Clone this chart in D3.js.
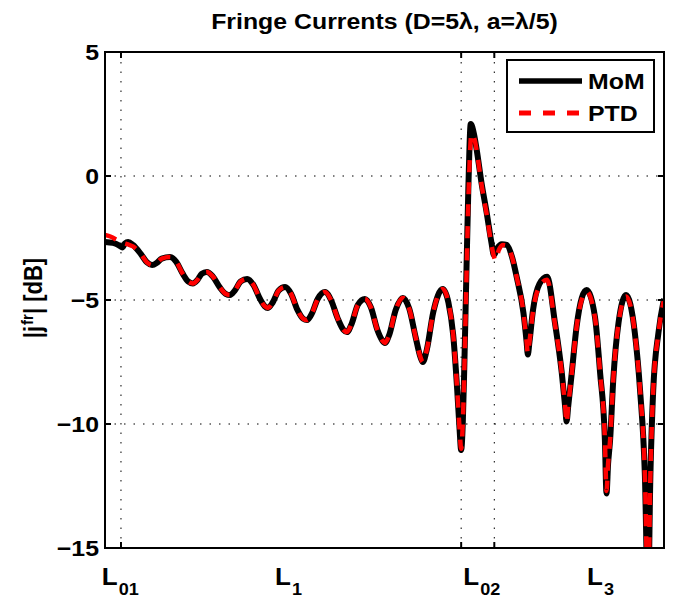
<!DOCTYPE html>
<html>
<head>
<meta charset="utf-8">
<script src="https://cdn.jsdelivr.net/npm/d3@7"></script>
<style>
  body { margin: 0; background: #fff; }
  svg text { font-family: "Liberation Sans", Arial, Helvetica, sans-serif; font-weight: bold; fill: #000; }
</style>
</head>
<body>
<svg id="chart" width="678" height="601"></svg>
<script>
// y axis ticks (dB)
const yTicks = [-15, -10, -5, 0, 5]
const yGrid = [-10, -5, 0]
// vertical grid lines / x ticks (position along the contour)
const xGrid = [0.40, 8.92, 9.75]
// x tick labels (text, subscript, position)
const xLabels = [
    {main: 'L', sub: '01', at: -0.08},
    {main: 'L', sub: '1', at: 4.26},
    {main: 'L', sub: '02', at: 8.97},
    {main: 'L', sub: '3', at: 12.07}
]

// MoM fringe current, [position, dB]
const mom = [
    [0.00,-2.66],[0.20,-2.70],[0.35,-2.80],[0.43,-2.88],[0.50,-2.72],[0.58,-2.66],[0.70,-2.78],[0.90,-3.15],
    [1.05,-3.48],[1.18,-3.59],[1.30,-3.50],[1.42,-3.33],[1.63,-3.27],[1.78,-3.45],[1.95,-3.95],[2.08,-4.25],
    [2.20,-4.33],[2.32,-4.18],[2.42,-3.95],[2.55,-3.87],[2.70,-4.05],[2.88,-4.50],[3.02,-4.75],[3.13,-4.80],
    [3.25,-4.62],[3.40,-4.25],[3.56,-4.15],[3.72,-4.40],[3.88,-4.95],[4.00,-5.25],[4.08,-5.32],[4.20,-5.10],
    [4.35,-4.62],[4.51,-4.48],[4.66,-4.75],[4.82,-5.40],[4.96,-5.75],[5.06,-5.81],[5.18,-5.55],[5.33,-4.95],
    [5.51,-4.68],[5.66,-5.00],[5.83,-5.75],[5.97,-6.20],[6.06,-6.29],[6.18,-5.95],[6.33,-5.20],[6.51,-4.96],
    [6.66,-5.30],[6.82,-6.20],[6.94,-6.62],[7.01,-6.73],[7.12,-6.40],[7.28,-5.40],[7.46,-4.92],[7.62,-5.35],
    [7.78,-6.50],[7.90,-7.30],[7.96,-7.50],[8.06,-7.00],[8.22,-5.50],[8.46,-4.56],[8.60,-5.10],[8.72,-6.40],
    [8.82,-8.60],[8.88,-10.20],[8.92,-11.05],[8.96,-10.00],[9.00,-7.60],[9.05,-4.00],[9.10,-0.50],[9.16,2.10],
    [9.24,1.70],[9.31,1.05],[9.43,-0.28],[9.56,-1.49],[9.68,-2.70],[9.74,-3.19],[9.82,-2.92],[9.94,-2.75],
    [10.06,-2.78],[10.20,-3.30],[10.31,-4.07],[10.48,-5.52],[10.56,-6.70],[10.59,-7.20],[10.63,-6.70],[10.72,-5.40],
    [10.88,-4.35],[11.07,-4.06],[11.27,-5.93],[11.44,-7.94],[11.53,-9.40],[11.56,-9.90],[11.60,-9.30],[11.69,-7.94],
    [11.81,-6.08],[11.94,-4.92],[12.06,-4.60],[12.27,-5.67],[12.40,-7.94],[12.52,-10.65],[12.56,-12.80],[12.60,-11.60],
    [12.65,-10.65],[12.73,-8.20],[12.86,-5.93],[13.05,-4.80],[13.27,-6.33],[13.40,-8.63],[13.52,-12.00],[13.60,-17.00],
    [13.66,-12.00],[13.73,-8.63],[13.86,-6.33],[14.00,-4.95]
]

// PTD fringe current, [position, dB]
const ptd = [
    [0.00,-2.38],[0.15,-2.45],[0.30,-2.58],[0.45,-2.70],[0.58,-2.76],[0.70,-2.84],[0.90,-3.15],
    [1.05,-3.48],[1.18,-3.59],[1.30,-3.50],[1.42,-3.33],[1.63,-3.27],[1.78,-3.45],[1.95,-3.95],[2.08,-4.25],
    [2.20,-4.33],[2.32,-4.18],[2.42,-3.95],[2.55,-3.87],[2.70,-4.05],[2.88,-4.50],[3.02,-4.75],[3.13,-4.80],
    [3.25,-4.62],[3.40,-4.25],[3.56,-4.15],[3.72,-4.40],[3.88,-4.95],[4.00,-5.25],[4.08,-5.32],[4.20,-5.10],
    [4.35,-4.62],[4.51,-4.48],[4.66,-4.75],[4.82,-5.40],[4.96,-5.75],[5.06,-5.81],[5.18,-5.55],[5.33,-4.95],
    [5.51,-4.68],[5.66,-5.00],[5.83,-5.75],[5.97,-6.20],[6.06,-6.29],[6.18,-5.95],[6.33,-5.20],[6.51,-4.96],
    [6.66,-5.30],[6.82,-6.20],[6.94,-6.62],[7.01,-6.73],[7.12,-6.40],[7.28,-5.40],[7.46,-4.92],[7.62,-5.35],
    [7.78,-6.50],[7.90,-7.30],[7.96,-7.50],[8.06,-7.00],[8.22,-5.50],[8.46,-4.56],[8.60,-5.10],[8.72,-6.40],
    [8.82,-8.60],[8.88,-10.20],[8.92,-11.00],[8.96,-10.00],[9.00,-7.80],[9.05,-4.30],[9.10,-1.00],[9.18,1.70],
    [9.26,1.45],[9.32,0.90],[9.43,-0.35],[9.56,-1.55],[9.70,-2.95],[9.78,-3.40],[9.86,-3.00],[9.96,-2.78],
    [10.06,-2.80],[10.20,-3.30],[10.31,-4.07],[10.48,-5.52],[10.56,-6.70],[10.59,-7.15],[10.63,-6.70],[10.72,-5.45],
    [10.88,-4.45],[11.07,-4.18],[11.27,-5.98],[11.44,-7.94],[11.53,-9.40],[11.56,-9.95],[11.60,-9.30],[11.69,-7.94],
    [11.81,-6.10],[11.94,-4.98],[12.06,-4.66],[12.27,-5.70],[12.40,-7.94],[12.52,-10.65],[12.56,-12.70],[12.60,-11.60],
    [12.65,-10.65],[12.73,-8.20],[12.86,-5.95],[13.05,-4.86],[13.27,-6.35],[13.40,-8.63],[13.52,-12.00],[13.60,-17.00],
    [13.66,-12.00],[13.73,-8.63],[13.86,-6.35],[14.00,-4.98]
]

const legendItems = [
    {name: 'MoM', color: '#000', dash: null, width: 5.5},
    {name: 'PTD', color: '#ff0000', dash: '12,12', width: 5}
]

const svg = d3.select('#chart')
const margin = {top: 52, right: 14, bottom: 53, left: 105}
const W = 678 - margin.left - margin.right
const H = 601 - margin.top - margin.bottom
const STRETCH = 1.13

const x = d3.scaleLinear().domain([0, 14]).range([margin.left, margin.left + W])
const y = d3.scaleLinear().domain([-15, 5]).range([margin.top + H, margin.top])

// text drawn a bit wider, like the original export
function addText(parent, px, py, size, anchor){
    return parent.append('text')
        .attr('transform', 'translate(' + px + ',' + py + ') scale(' + STRETCH + ',1)')
        .attr('font-size', size)
        .attr('text-anchor', anchor)
}

// grid
const grid = svg.append('g')
grid.selectAll('.hgrid')
    .data(yGrid)
    .join('line')
    .attr('x1', x(0)).attr('x2', x(14))
    .attr('y1', d => y(d)).attr('y2', d => y(d))
    .attr('stroke', '#000').attr('stroke-width', 1)
    .attr('stroke-dasharray', '1.5,8')
grid.selectAll('.vgrid')
    .data(xGrid)
    .join('line')
    .attr('x1', d => x(d)).attr('x2', d => x(d))
    .attr('y1', y(-15)).attr('y2', y(5))
    .attr('stroke', '#000').attr('stroke-width', 1)
    .attr('stroke-dasharray', '1.5,8')

// curves
svg.append('clipPath').attr('id', 'plotClip')
    .append('rect')
    .attr('x', x(0)).attr('y', y(5))
    .attr('width', W).attr('height', H)

const line = d3.line()
    .x(d => x(d[0]))
    .y(d => y(d[1]))
    .curve(d3.curveMonotoneX)

const curves = svg.append('g').attr('clip-path', 'url(#plotClip)')
curves.append('path')
    .datum(mom)
    .attr('fill', 'none')
    .attr('stroke', '#000')
    .attr('stroke-width', 6)
    .attr('stroke-linejoin', 'round')
    .attr('d', line)
curves.append('path')
    .datum(ptd)
    .attr('fill', 'none')
    .attr('stroke', '#ff0000')
    .attr('stroke-width', 4.5)
    .attr('stroke-dasharray', '12,10')
    .attr('d', line)

// frame
svg.append('rect')
    .attr('x', x(0)).attr('y', y(5))
    .attr('width', W).attr('height', H)
    .attr('fill', 'none')
    .attr('stroke', '#000')
    .attr('stroke-width', 2)

// tick marks (inside, on both sides)
const ticks = svg.append('g').attr('stroke', '#000').attr('stroke-width', 2)
yTicks.forEach(function(t){
    ticks.append('line').attr('x1', x(0)).attr('x2', x(0) + 6).attr('y1', y(t)).attr('y2', y(t))
    ticks.append('line').attr('x1', x(14)).attr('x2', x(14) - 6).attr('y1', y(t)).attr('y2', y(t))
})
xGrid.forEach(function(t){
    ticks.append('line').attr('x1', x(t)).attr('x2', x(t)).attr('y1', y(-15)).attr('y2', y(-15) - 6)
    ticks.append('line').attr('x1', x(t)).attr('x2', x(t)).attr('y1', y(5)).attr('y2', y(5) + 6)
})

// y tick labels
yTicks.forEach(function(t){
    addText(svg, x(0) - 6, y(t), 22, 'end')
        .attr('dy', '0.36em')
        .text(d3.format('')(t).replace('-', '\u2212'))
})

// x tick labels
xLabels.forEach(function(l){
    const t = addText(svg, x(l.at), 585, 23, 'start')
    t.append('tspan').text(l.main)
    t.append('tspan').attr('font-size', 16).attr('dy', 10).attr('dx', 1).text(l.sub)
})

// title
addText(svg, (x(0) + x(14)) / 2, 29, 22, 'middle')
    .text('Fringe Currents (D=5\u03bb, a=\u03bb/5)')

// y label
const yl = svg.append('text')
    .attr('transform', 'translate(42,298) rotate(-90) scale(1,' + STRETCH + ')')
    .attr('font-size', 22)
    .attr('text-anchor', 'middle')
yl.append('tspan').text('|j')
yl.append('tspan').attr('font-size', 15).attr('dy', -8).attr('dx', 1).text('fr')
yl.append('tspan').attr('dy', 8).text('| [dB]')

// legend
const lg = svg.append('g')
lg.append('rect')
    .attr('x', 507).attr('y', 60)
    .attr('width', 147).attr('height', 72)
    .attr('fill', '#fff')
    .attr('stroke', '#000')
    .attr('stroke-width', 2)
legendItems.forEach(function(it, i){
    const ly = 81 + i * 32
    lg.append('line')
        .attr('x1', 519).attr('x2', 582)
        .attr('y1', ly).attr('y2', ly)
        .attr('stroke', it.color)
        .attr('stroke-width', it.width)
        .attr('stroke-dasharray', it.dash)
    addText(lg, 588, ly, 22, 'start')
        .attr('dy', '0.36em')
        .text(it.name)
})
</script>
</body>
</html>
